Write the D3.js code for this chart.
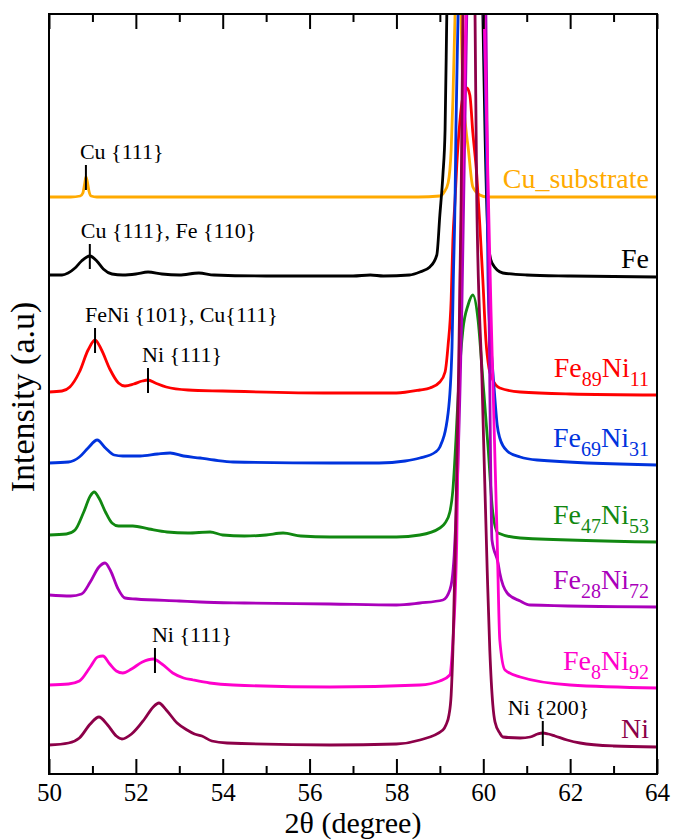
<!DOCTYPE html>
<html>
<head>
<meta charset="utf-8">
<script src="https://cdn.jsdelivr.net/npm/d3@7/dist/d3.min.js"></script>
<style>
  body { margin: 0; background: #fff; }
  text { font-family: "Liberation Serif", "Times New Roman", serif; }
</style>
</head>
<body>
<svg id="chart" width="673" height="840"></svg>
<script>
// XRD patterns, [2theta, intensity (a.u., stacked)]
var cuSubstrate = [
  [50.00,577],[50.50,577],[50.72,578],[50.78,581],[50.82,590],[50.85,597],[50.88,593],[50.92,583],
  [50.97,578],[51.10,577],[53.00,577],[56.00,577],[58.50,577],[59.00,578],[59.10,582],[59.19,591],
  [59.26,624],[59.30,674],[59.35,760],[59.43,950],[59.48,780],[59.53,687],[59.60,645],[59.65,627],
  [59.76,587],[59.92,579],[60.09,577],[61.00,577],[64.00,577]
];
var fe = [
  [50.00,499],[50.30,499],[50.44,501],[50.60,506],[50.75,513],[50.94,518],[51.10,513],[51.25,505],
  [51.45,500],[51.70,499],[52.00,500],[52.28,502],[52.60,500],[53.00,499],[53.45,501],[53.80,499],
  [55.00,498],[57.00,498],[57.40,499],[57.70,498],[58.30,499],[58.54,502],[58.77,507],[58.93,519],
  [59.00,559],[59.07,599],[59.12,644],[59.16,760],[59.58,1800],[59.99,760],[60.04,641],[60.11,534],
  [60.15,519],[60.20,511],[60.45,501],[61.00,499],[62.00,498],[64.00,497]
];
var fe89ni11 = [
  [50.00,382],[50.30,383],[50.48,387],[50.70,402],[50.90,424],[51.06,434],[51.20,425],[51.40,405],
  [51.60,391],[51.75,388],[51.95,390],[52.15,393],[52.28,394],[52.45,391],[52.70,387],[53.20,384],
  [54.00,383],[56.50,381],[58.00,381],[58.54,384],[58.77,386],[59.00,392],[59.12,402],[59.19,429],
  [59.26,474],[59.30,534],[59.35,574],[59.39,609],[59.46,652],[59.53,677],[59.62,686],[59.69,679],
  [59.76,641],[59.85,599],[59.92,549],[59.99,494],[60.06,434],[60.13,406],[60.20,396],[60.38,386],
  [60.85,382],[62.00,380],[64.00,379]
];
var fe69ni31 = [
  [50.00,311],[50.45,312],[50.70,317],[50.90,326],[51.11,334],[51.30,326],[51.50,319],[51.70,318],
  [52.10,318],[52.50,320],[52.79,321],[53.10,318],[53.48,316],[53.80,314],[54.24,312],[56.50,311],
  [57.60,311],[58.20,313],[58.54,316],[58.90,322],[59.00,327],[59.19,361],[59.28,427],[59.31,494],
  [59.35,574],[59.37,644],[59.42,760],[59.72,1600],[60.02,760],[60.09,574],[60.11,494],[60.15,444],
  [60.20,414],[60.27,374],[60.32,349],[60.38,336],[60.55,323],[60.85,317],[61.24,314],[64.00,309]
];
var fe47ni53 = [
  [50.00,239],[50.40,240],[50.60,244],[50.80,262],[50.95,278],[51.04,282],[51.15,276],[51.30,262],
  [51.45,251],[51.60,248],[51.93,248],[52.30,245],[52.72,242],[53.20,241],[53.71,242],[54.00,239],
  [54.50,238],[55.00,239],[55.39,241],[55.80,238],[56.47,237],[58.00,237],[58.54,239],[59.00,246],
  [59.12,251],[59.23,262],[59.30,284],[59.37,334],[59.44,394],[59.53,444],[59.65,469],[59.76,479],
  [59.88,454],[59.99,394],[60.11,327],[60.22,261],[60.34,241],[60.85,236],[64.00,232]
];
var fe28ni72 = [
  [50.00,179],[50.50,178],[50.75,180],[50.95,192],[51.15,207],[51.29,211],[51.42,203],[51.58,186],
  [51.75,176],[52.00,175],[53.00,173],[53.48,172],[54.50,171],[56.47,170],[58.00,169],[58.54,171],
  [59.07,174],[59.23,184],[59.28,194],[59.33,219],[59.37,254],[59.51,474],[59.62,760],[59.83,1500],
  [60.06,760],[60.13,474],[60.20,234],[60.34,211],[60.38,201],[60.55,181],[60.85,173],[61.08,169],
  [64.00,167]
];
var fe8ni92 = [
  [50.00,89],[50.45,90],[50.70,93],[50.95,107],[51.12,117],[51.24,118],[51.40,110],[51.55,103],
  [51.70,101],[51.90,105],[52.15,112],[52.40,115],[52.60,110],[52.85,101],[53.10,96],[53.32,94],
  [53.70,91],[54.24,89],[56.47,87],[58.54,89],[59.00,93],[59.23,99],[59.30,132],[59.35,174],
  [59.39,234],[59.47,500],[59.60,760],[59.81,1400],[60.02,760],[60.22,394],[60.32,234],[60.38,134],
  [60.50,104],[60.85,97],[62.00,89],[64.00,86]
];
var ni = [
  [50.00,29],[50.45,31],[50.70,36],[50.95,50],[51.15,57],[51.35,49],[51.55,38],[51.68,35],
  [51.90,40],[52.20,55],[52.40,67],[52.53,71],[52.70,64],[52.95,51],[53.18,44],[53.35,40],
  [53.52,38],[53.75,33],[54.10,31],[56.47,29],[58.00,30],[58.54,34],[59.07,44],[59.14,49],
  [59.21,59],[59.26,79],[59.30,124],[59.35,214],[59.42,374],[59.49,574],[59.53,760],[59.67,1100],
  [59.81,760],[59.85,574],[59.97,394],[60.09,204],[60.15,124],[60.22,69],[60.27,52],[60.38,41],
  [60.45,37],[60.85,36],[61.08,37],[61.25,40],[61.37,41],[61.50,40],[61.65,38],[61.93,34],
  [62.23,31],[63.00,28],[64.00,27]
];

var seriesData = [cuSubstrate, fe, fe89ni11, fe69ni31, fe47ni53, fe28ni72, fe8ni92, ni];
var seriesNames = ["Cu_substrate", "Fe", "Fe89Ni11", "Fe69Ni31", "Fe47Ni53", "Fe28Ni72", "Fe8Ni92", "Ni"];
var seriesColors = ["#ffaa00", "#000000", "#ff0000", "#0033dd", "#118811", "#aa00bb", "#ff00cc", "#8c0048"];

var majorTicks = [50, 52, 54, 56, 58, 60, 62, 64];
var minorTicks = [51, 53, 55, 57, 59, 61, 63];

var peakNotes = ["Cu {111}", "Cu {111}, Fe {110}", "FeNi {101}, Cu{111}", "Ni {111}", "Ni {111}", "Ni {200}"];
var peakSeries = [0, 1, 2, 2, 6, 7];
var peakAt = [50.85, 50.94, 51.06, 52.28, 52.44, 61.37];
var noteDx = [-6, -9, -10, -6, -3, -35];

var svg = d3.select("#chart");
var W = 673, H = 840;
var mLeft = 49, mRight = 657, mTop = 14, mBottom = 774;

var x = d3.scaleLinear().domain([50, 64]).range([mLeft, mRight]);
var y = d3.scaleLinear().domain([0, 760]).range([mBottom, mTop]);

svg.append("rect").attr("width", W).attr("height", H).attr("fill", "#fff");

svg.append("clipPath").attr("id", "plotclip")
  .append("rect").attr("x", mLeft).attr("y", mTop).attr("width", mRight - mLeft).attr("height", mBottom - mTop);

var line = d3.line()
  .x(function(d){ return x(d[0]); })
  .y(function(d){ return y(d[1]); })
  .curve(d3.curveMonotoneX);

var curves = svg.append("g").attr("clip-path", "url(#plotclip)");
curves.selectAll("path")
  .data(seriesData)
  .enter()
  .append("path")
  .attr("d", line)
  .attr("fill", "none")
  .attr("stroke", function(d, i){ return seriesColors[i]; })
  .attr("stroke-width", 2.8)
  .attr("stroke-linejoin", "round");

// series labels with numeric subscripts
var labels = svg.append("g").attr("text-anchor", "end");
seriesNames.forEach(function(name, i){
  var pts = seriesData[i];
  var parts = name.split(/(\d+)/).filter(function(s){ return s.length; });
  var hasSub = parts.length > 1;
  var t = labels.append("text")
    .attr("x", 649)
    .attr("y", y(pts[pts.length - 1][1]) - (hasSub ? 18 : 9))
    .attr("fill", seriesColors[i])
    .attr("font-size", 28);
  var shifted = false;
  parts.forEach(function(p){
    var isNum = /^\d+$/.test(p);
    var ts = t.append("tspan").text(p);
    if (isNum) {
      ts.attr("font-size", 20).attr("dy", 9);
      shifted = true;
    } else if (shifted) {
      ts.attr("dy", -9);
      shifted = false;
    }
  });
});

function valueAt(pts, xv){
  for (var k = 1; k < pts.length; k++) {
    if (pts[k][0] >= xv) {
      var a = pts[k-1], b = pts[k];
      return a[1] + (b[1] - a[1]) * (xv - a[0]) / (b[0] - a[0]);
    }
  }
  return pts[pts.length - 1][1];
}

// peak markers
var notes = svg.append("g");
peakNotes.forEach(function(txt, i){
  var px = x(peakAt[i]);
  var py = y(valueAt(seriesData[peakSeries[i]], peakAt[i]));
  notes.append("line")
    .attr("x1", px).attr("x2", px)
    .attr("y1", py - 12).attr("y2", py + 13)
    .attr("stroke", "#000").attr("stroke-width", 2);
  notes.append("text")
    .attr("x", px + noteDx[i])
    .attr("y", py - 18)
    .attr("font-size", 22)
    .attr("fill", "#000")
    .text(txt);
});

// axes
function styleAxis(g){
  g.select(".domain").remove();
  g.selectAll(".tick line").attr("stroke", "#000").attr("stroke-width", 2);
  g.selectAll(".tick text").attr("fill", "#000").attr("font-size", 25)
    .attr("font-family", "Liberation Serif, Times New Roman, serif");
}

svg.append("g").attr("transform", "translate(0," + mBottom + ")")
  .call(d3.axisBottom(x).tickValues(majorTicks).tickSize(-15).tickPadding(9).tickFormat(d3.format("d")))
  .call(styleAxis);
svg.append("g").attr("transform", "translate(0," + mBottom + ")")
  .call(d3.axisBottom(x).tickValues(minorTicks).tickSize(-8).tickFormat(""))
  .call(styleAxis);
svg.append("g").attr("transform", "translate(0," + mTop + ")")
  .call(d3.axisTop(x).tickValues(majorTicks).tickSize(-15).tickFormat(""))
  .call(styleAxis);
svg.append("g").attr("transform", "translate(0," + mTop + ")")
  .call(d3.axisTop(x).tickValues(minorTicks).tickSize(-8).tickFormat(""))
  .call(styleAxis);

svg.append("rect")
  .attr("x", mLeft).attr("y", mTop)
  .attr("width", mRight - mLeft).attr("height", mBottom - mTop)
  .attr("fill", "none").attr("stroke", "#000").attr("stroke-width", 2);

svg.append("text")
  .attr("x", (mLeft + mRight) / 2).attr("y", 833)
  .attr("text-anchor", "middle").attr("font-size", 30)
  .text("2θ (degree)");

svg.append("text")
  .attr("transform", "translate(34," + 397 + ") rotate(-90)")
  .attr("text-anchor", "middle").attr("font-size", 34)
  .text("Intensity (a.u)");
</script>
</body>
</html>
